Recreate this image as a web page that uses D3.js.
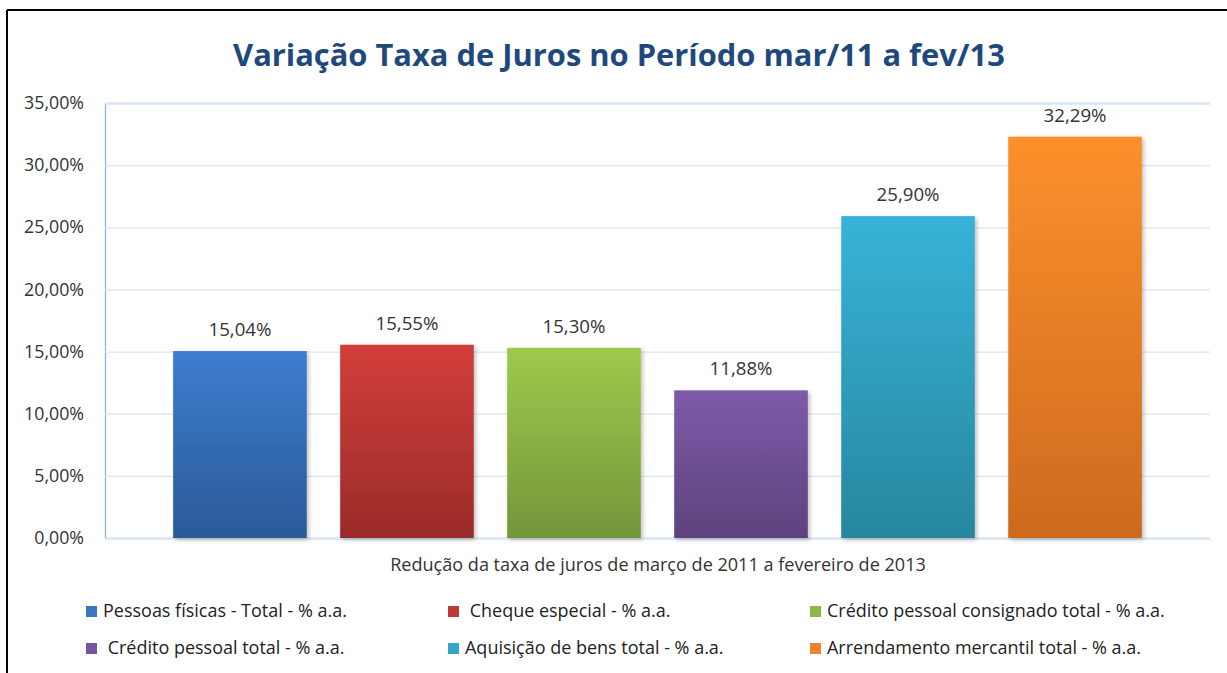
<!DOCTYPE html>
<html><head><meta charset="utf-8">
<script src="https://cdn.jsdelivr.net/npm/d3@7"></script>
<style>
html,body{margin:0;padding:0;background:#fff;}
svg{display:block;}
text{font-family:"Open Sans","Noto Sans",sans-serif;}
</style></head>
<body>
<svg id="c" width="1227" height="673"></svg>
<script>
const title = "Variação Taxa de Juros no Período mar/11 a fev/13";
const category = "Redução da taxa de juros de março de 2011 a fevereiro de 2013";
const seriesNames = [
  "Pessoas físicas - Total - % a.a.",
  " Cheque especial - % a.a.",
  "Crédito pessoal consignado total - % a.a.",
  " Crédito pessoal total - % a.a.",
  "Aquisição de bens total - % a.a.",
  "Arrendamento mercantil total - % a.a."
];
const values = [15.04, 15.55, 15.30, 11.88, 25.90, 32.29];
const yTicks = [0, 5, 10, 15, 20, 25, 30, 35];
const topColors = ["#3c7dcf", "#d23e3b", "#9dca4c", "#7e5ba9", "#37b3d8", "#fc902c"];
const bottomColors = ["#2b5a98", "#9a2b29", "#73963a", "#5d427d", "#27879f", "#cd6a1e"];
const legendColors = ["#3a75c0", "#c0393a", "#8cb843", "#7654a0", "#32a7c8", "#f0842a"];

const svg = d3.select("#c");
const fmt = v => v.toFixed(2).replace(".", ",") + "%";

// scale a text's font size so its rendered width matches a target width
function fitFont(sel, baseSize, measuredText, targetWidth) {
  sel.style("font-size", baseSize + "px");
  const n = sel.node();
  const w = n.getComputedTextLength();
  if (w > 0) sel.style("font-size", (baseSize * targetWidth / w).toFixed(2) + "px");
  return baseSize * targetWidth / w;
}

// frame
svg.append("line").attr("x1",7).attr("y1",10).attr("x2",1227).attr("y2",10).attr("stroke","#000").attr("stroke-width",2);
svg.append("line").attr("x1",7).attr("y1",10).attr("x2",7).attr("y2",673).attr("stroke","#000").attr("stroke-width",2);

const L = 105, R = 1210, T = 103, B = 538;
const y = d3.scaleLinear().domain([0, 35]).range([B, T]);
const x = d3.scaleBand().domain(seriesNames).range([L, R]).paddingInner(0.2).paddingOuter(0.408);

const defs = svg.append("defs");
seriesNames.forEach((s,i) => {
  const g = defs.append("linearGradient").attr("id","g"+i).attr("x1",0).attr("y1",0).attr("x2",0).attr("y2",1);
  g.append("stop").attr("offset","0%").attr("stop-color",topColors[i]);
  g.append("stop").attr("offset","100%").attr("stop-color",bottomColors[i]);
});
const f = defs.append("filter").attr("id","sh").attr("x","-10%").attr("y","-10%").attr("width","130%").attr("height","130%");
f.append("feDropShadow").attr("dx",2).attr("dy",2).attr("stdDeviation",2).attr("flood-color","#000").attr("flood-opacity",0.25);

// measure font sizes
const probe = svg.append("text").style("font-family","'Open Sans',sans-serif");
const tickSize = fitFont(probe.text("35,00%"), 16, null, 60);
const labelSize = fitFont(probe.text("15,04%"), 16, null, 63);
const catSize = fitFont(probe.text(category), 16, null, 536);
const legSize = fitFont(probe.text(seriesNames[0]), 16, null, 244);
probe.style("font-weight","bold");
const titleSize = fitFont(probe.text(title), 30, null, 772);
probe.remove();

// gridlines + axis
const yAxis = d3.axisLeft(y).tickValues(yTicks).tickSize(-(R-L)).tickFormat(d => fmt(d)).tickPadding(21);
const ga = svg.append("g").attr("transform",`translate(${L},0)`).call(yAxis);
ga.select(".domain").attr("stroke","#8eb4e3").attr("stroke-width",1.3);
ga.selectAll(".tick line").attr("stroke","#dce6f2").attr("stroke-width",1.3);
ga.selectAll(".tick text").attr("fill","#333").style("font-size",tickSize+"px").style("font-family","'Open Sans',sans-serif");

// bars
svg.append("g").selectAll("rect").data(values).join("rect")
  .attr("x",(d,i)=>x(seriesNames[i]))
  .attr("width",x.bandwidth())
  .attr("y",d=>y(d))
  .attr("height",d=>B - y(d))
  .attr("fill",(d,i)=>`url(#g${i})`)
  .attr("filter","url(#sh)");

// value labels
svg.append("g").selectAll("text").data(values).join("text")
  .attr("x",(d,i)=>x(seriesNames[i]) + x.bandwidth()/2)
  .attr("y",d=>y(d) - 15)
  .attr("text-anchor","middle")
  .attr("fill","#333")
  .style("font-size",labelSize+"px")
  .text(d=>fmt(d));

// title
svg.append("text").attr("x",619).attr("y",66).attr("text-anchor","middle")
  .attr("fill","#1f497d").style("font-size",titleSize+"px").style("font-weight","bold").text(title);

// category label
svg.append("text").attr("x",658).attr("y",571).attr("text-anchor","middle")
  .attr("fill","#333").style("font-size",catSize+"px").text(category);

// legend
const colX = [86, 448, 810], rowY = [611, 648];
const lg = svg.append("g").selectAll("g").data(seriesNames).join("g")
  .attr("transform",(d,i)=>`translate(${colX[i%3]},${rowY[Math.floor(i/3)]})`);
lg.append("rect").attr("x",0).attr("y",-5).attr("width",11).attr("height",11).attr("fill",(d,i)=>legendColors[i]);
lg.append("text").attr("x",17).attr("y",6).attr("fill","#222").style("font-size",legSize+"px").style("white-space","pre").text(d=>d);
</script>
</body></html>
